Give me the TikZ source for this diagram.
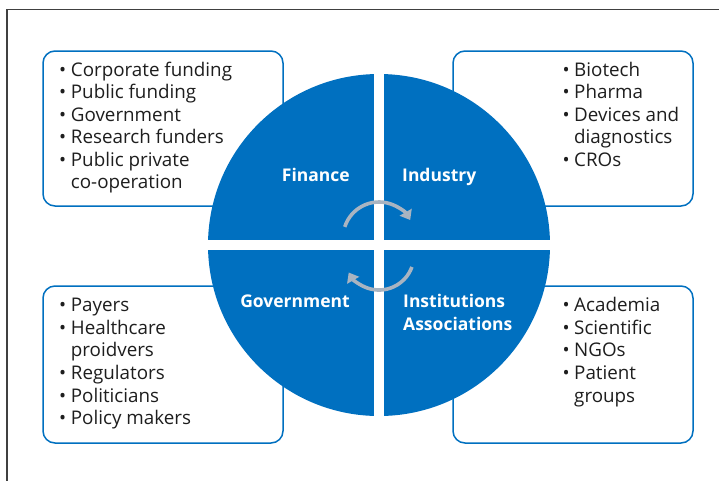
\documentclass[tikz,border=0pt]{standalone}
\usepackage{fontspec}
\setmainfont{Open Sans}
\usetikzlibrary{arrows.meta}
\definecolor{qblue}{HTML}{0070C0}
\definecolor{arrowgray}{HTML}{A9B4C1}
\definecolor{txtdark}{HTML}{1E1E1E}
\definecolor{framegray}{HTML}{404040}
\begin{document}
\begin{tikzpicture}[x=1pt,y=-1pt,
  box/.style={draw=qblue,line width=1.5pt,fill=white,rounded corners=12pt},
  itemtxt/.style={anchor=base west,inner sep=0pt,font=\fontsize{18.8}{22}\selectfont,text=txtdark},
  bul/.style={anchor=base west,inner sep=0pt,font=\fontsize{18.8}{22}\selectfont,text=txtdark},
  qlabel/.style={inner sep=0pt,font=\bfseries\fontsize{17.5}{22}\selectfont,text=white},
  cyc/.style={draw=arrowgray,line width=3.6pt,-{Triangle[width=13.5pt,length=9pt]}}]
\useasboundingbox (0,0) rectangle (719,480);
\fill[white] (0,0) rectangle (719,480);
% outer frame (top and left edges visible)
\draw[framegray,line width=1.2pt] (7,490) -- (7,9.5) -- (730,9.5);
% boxes
\draw[box] (43,51) rectangle (283,206);
\draw[box] (453,51) rectangle (693,206);
\draw[box] (43,286) rectangle (283,443);
\draw[box] (453,286) rectangle (693,443);
% circle quadrants
\coordinate (c) at (379,245);
\begin{scope}
  \clip (c) circle[radius=171];
  \fill[qblue] (208,60) rectangle (374,240);
  \fill[qblue] (384,60) rectangle (560,240);
  \fill[qblue] (208,250) rectangle (374,430);
  \fill[qblue] (384,250) rectangle (560,430);
\end{scope}
% quadrant labels
\node[qlabel,anchor=base east] (fin) at (350,181) {Finance};
\node[qlabel,anchor=base west] (ind) at (402,181) {Industry};
\node[qlabel,anchor=base east] (gov) at (350,307) {Government};
\node[qlabel,anchor=base west] (ins) at (403,307) {Institutions};
\node[qlabel,anchor=base west] (ass) at (403,330) {Associations};
% cycle arrows
\coordinate (cu) at (379,238);
\coordinate (cl) at (379,255);
\draw[cyc] (cu) ++(198:36) arc[start angle=198,end angle=330,radius=36];
\draw[cyc] (cl) ++(20:35) arc[start angle=20,end angle=150,radius=35];
% top-left list
\foreach \t/\y/\b [count=\i] in {Corporate funding/76/1,Public funding/98.5/1,Government/121/1,Research funders/143.5/1,Public private/166/1,co-operation/188.5/0}{
  \node[itemtxt] (tl\i) at (70.7,\y) {\t};
  \ifnum\b=1 \node[bul] (tlb\i) at (59,\y) {•};\fi
}
% top-right list
\foreach \t/\y/\b [count=\i] in {Biotech/76/1,Pharma/98.5/1,Devices and/121/1,diagnostics/143.5/0,CROs/166/1}{
  \node[itemtxt] (tr\i) at (574,\y) {\t};
  \ifnum\b=1 \node[bul] (trb\i) at (562.3,\y) {•};\fi
}
% bottom-left list
\foreach \t/\y/\b [count=\i] in {Payers/311.7/1,Healthcare/334.3/1,proidvers/356.9/0,Regulators/379.5/1,Politicians/402.1/1,Policy makers/424.7/1}{
  \node[itemtxt] (bl\i) at (70.7,\y) {\t};
  \ifnum\b=1 \node[bul] (blb\i) at (59,\y) {•};\fi
}
% bottom-right list
\foreach \t/\y/\b [count=\i] in {Academia/311.7/1,Scientific/334.3/1,NGOs/356.9/1,Patient/379.5/1,groups/402.1/0}{
  \node[itemtxt] (br\i) at (574,\y) {\t};
  \ifnum\b=1 \node[bul] (brb\i) at (562.3,\y) {•};\fi
}
\end{tikzpicture}
\end{document}
